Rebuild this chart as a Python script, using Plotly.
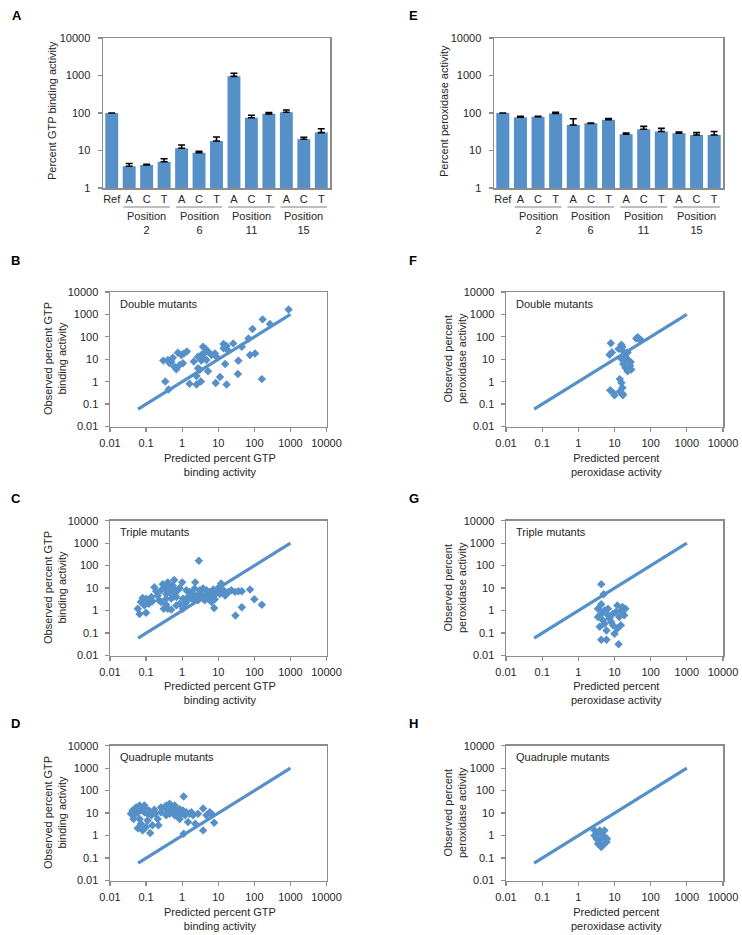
import plotly.graph_objects as go

W, H = 742, 935
BLUE = "#5590C9"
AXC = "#8C8C8C"
TXT = "#262626"
FONT = "Liberation Sans, Arial, sans-serif"

# ---------------- data ----------------
bar_labels = ["Ref", "A", "C", "T", "A", "C", "T", "A", "C", "T", "A", "C", "T"]
groups = ["Position<br>2", "Position<br>6", "Position<br>11", "Position<br>15"]

gtp_vals = [100, 3.8, 4.1, 5.0, 11.5, 8.7, 18, 950, 75, 95, 105, 20, 30]
gtp_err = [0, 0.7, 0.2, 1.0, 2.5, 0.8, 5.0, 200, 12, 8, 15, 2.5, 8]

perox_vals = [100, 77, 80, 97, 48, 53, 66, 27, 37, 32, 29, 26, 26]
perox_err = [0, 5, 2, 8, 22, 1, 5, 2, 7, 7, 2, 4, 6]

diag_x = [0.06, 1000]
diag_y = [0.06, 1000]

# GTP double mutants (predicted, observed)
gtp_dbl_pred = [890, 170, 270, 89, 69, 45, 26, 14, 17, 19, 105, 76, 162, 36, 35, 15.5, 11.2,
                17, 8.5, 8.1, 6.5, 8.9, 5.2, 3.8, 4.5, 3.4, 3.8, 4.7, 3.4, 2.75, 3.1, 2.5,
                3.3, 2.5, 1.6, 5.2, 2.1, 1.35, 1.12, 0.76, 0.95, 0.55, 0.4, 0.3, 0.45, 0.62,
                0.69, 0.85, 1.05, 0.5, 0.34, 0.42, 14, 2.75, 4]
gtp_dbl_obs = [1660, 600, 370, 224, 85, 36, 51, 48, 39, 24, 18, 15.5, 1.3, 8.5, 2.2, 6.2, 1.6,
               0.74, 0.87, 18, 15.5, 13, 22, 36, 28, 15.5, 11, 9.3, 8.7, 4, 3.4, 1.8,
               1.02, 0.74, 0.81, 2.9, 7.9, 22, 18, 19.5, 15.5, 11.7, 9.3, 8.7, 6.6, 4.5,
               3.6, 5.6, 6.6, 7.9, 1.02, 0.45, 31, 13, 18]

# GTP triple mutants
gtp_tri_pred = [2.9, 0.059, 0.066, 0.1, 0.072, 0.08, 0.09, 0.11, 0.14, 0.17, 0.12, 0.21, 0.23,
                0.26, 0.29, 0.33, 0.36, 0.4, 0.45, 0.5, 0.55, 0.6, 0.62, 0.69, 0.76, 0.85, 1.0,
                0.4, 0.5, 0.36, 0.31, 0.85, 1.05, 1.3, 1.45, 1.2, 1.6, 2.0, 2.3, 2.2, 2.5, 2.75,
                3.1, 3.4, 3.8, 4.2, 4.7, 5.2, 5.8, 6.5, 7.3, 8.0, 9.0, 10, 11, 12, 14, 15.5,
                7.7, 17, 19, 23, 29, 36, 45, 76, 100, 162, 45, 30, 5.2, 3.8, 1.8, 1.3, 0.69,
                1.05, 0.19, 0.15, 0.1, 0.26, 0.5, 0.36, 0.31, 0.4, 0.62, 4.2, 6.5, 8.0, 3.1, 2.2]
gtp_tri_obs = [166, 1.2, 0.7, 0.8, 2.4, 3.6, 1.7, 2.9, 4.0, 11, 2.0, 4.7, 2.9,
               8.0, 15, 11, 5.5, 18, 8.0, 3.4, 13, 23, 5.5, 4.0, 8.0, 10, 18,
               1.2, 1.1, 1.8, 1.2, 2.0, 3.4, 8.0, 4.0, 2.0, 6.8, 5.1, 18, 9.5, 4.7, 2.9,
               8.0, 5.5, 9.5, 4.4, 8.0, 5.5, 6.8, 4.0, 8.7, 5.0, 7.0, 10, 5.5, 16, 8.0, 4.7,
               1.3, 5.5, 6.8, 8.0, 6.8, 7.3, 7.3, 8.7, 3.2, 1.8, 1.4, 0.6, 3.4, 3.4, 3.4, 2.4, 1.7,
               1.2, 7.3, 2.6, 3.4, 2.4, 5.5, 3.4, 10, 13, 8.7, 2.9, 2.4, 3.2, 4.0, 2.9]

# GTP quadruple mutants
gtp_quad_pred = [1.1, 0.038, 0.042, 0.047, 0.053, 0.059, 0.066, 0.072, 0.08, 0.09, 0.1, 0.11,
                 0.12, 0.14, 0.15, 0.17, 0.059, 0.072, 0.08, 0.1, 0.11, 0.13, 0.15, 0.22, 0.21,
                 0.26, 0.33, 0.36, 0.4, 0.45, 0.5, 0.55, 0.62, 0.69, 0.76, 0.85, 0.95, 1.05,
                 1.2, 1.3, 1.45, 1.6, 1.8, 1.1, 2.3, 2.75, 3.8, 3.8, 4.7, 5.8, 6.5, 7.7, 0.62,
                 0.45, 0.26, 0.09, 0.059, 0.045, 0.066, 0.18, 0.76, 0.36, 2.0, 0.85]
gtp_quad_obs = [55, 9.3, 13, 8.0, 18, 11, 22, 13, 18, 11, 15, 9.3,
                13, 8.0, 11, 14, 2.1, 3.4, 1.7, 2.4, 4.7, 1.3, 2.9, 2.9, 5.5,
                11, 18, 22, 13, 9.3, 15, 11, 8.0, 13, 6.8, 15, 9.3, 13,
                8.0, 11, 4.0, 9.3, 11, 1.2, 3.4, 9.3, 16, 1.7, 8.0, 11, 9.3, 3.7, 22,
                26, 18, 22, 15, 5.5, 5.5, 9.3, 11, 8.0, 8.0, 5.5]

# Peroxidase double mutants
px_dbl_pred = [7.9, 7.3, 8.5, 15.5, 17, 19, 15, 21, 25, 17.5, 27, 29, 23, 20, 28, 23, 14,
               15.5, 16.5, 14, 7.6, 9.3, 17, 44, 49, 40, 54, 16.5, 19, 24, 13, 10, 17]
px_dbl_obs = [52, 16, 20, 44, 24, 16, 11, 12, 8.1, 6.2, 5.1, 3.5, 2.9, 4.2, 7.6, 20, 1.3,
              0.89, 0.54, 0.36, 0.41, 0.31, 0.25, 95, 78, 85, 72, 35, 9.1, 4.3, 29, 0.25, 0.28]

# Peroxidase triple mutants
px_tri_pred = [4.3, 5.0, 4.3, 5.3, 3.5, 4.8, 6.6, 8.1, 3.9, 6.0, 10, 12, 13.5, 15, 16.5, 12, 20,
               11, 4.3, 6.0, 13, 5.3, 7.3, 9.1, 3.5, 18.5, 15, 4.3, 6.6, 9.1]
px_tri_obs = [15, 5.3, 1.9, 1.0, 0.52, 0.37, 0.62, 0.31, 0.19, 0.13, 0.093, 0.16, 0.52, 1.0,
              1.45, 1.7, 1.2, 0.87, 0.05, 0.05, 0.032, 0.26, 0.44, 0.72, 1.2, 0.62, 0.22,
              0.72, 1.2, 0.22]

# Peroxidase quadruple mutants
px_quad_pred = [2.8, 3.5, 4.3, 5.3, 3.9, 4.8, 6.0, 3.2, 4.3, 2.8, 5.3, 3.5, 4.8, 3.9, 6.2]
px_quad_obs = [1.7, 1.23, 1.45, 0.87, 0.62, 0.37, 0.52, 0.72, 0.31, 1.0, 1.7, 0.43, 1.0, 1.7, 0.72]

# ---------------- layout helpers ----------------
def xd(a, b):
    return [a / W, b / W]

def yd(top, bot):
    return [1 - bot / H, 1 - top / H]

def px_x(v):
    return v / W

def px_y(v):
    return 1 - v / H

fig = go.Figure()

dec_vals = [1, 10, 100, 1000, 10000]
dec_text = ["1", "10", "100", "1000", "10000"]
sc_vals = [0.01, 0.1, 1, 10, 100, 1000, 10000]
sc_text = ["0.01", "0.1", "1", "10", "100", "1000", "10000"]

tickfont = dict(family=FONT, size=11, color=TXT)

# bar panels
bar_specs = [
    ("x", "y", gtp_vals, gtp_err, xd(103, 330)),
    ("x2", "y2", perox_vals, perox_err, xd(494, 723)),
]
for xa, ya, vals, err, dom in bar_specs:
    fig.add_trace(go.Bar(
        x=list(range(len(bar_labels))), y=vals, xaxis=xa, yaxis=ya,
        marker=dict(color=BLUE, line=dict(width=0)), width=0.74,
        error_y=dict(type="data", symmetric=False, array=err, arrayminus=[0] * len(err),
                     color="black", thickness=1.6, width=3.5),
        showlegend=False, hoverinfo="skip",
    ))

# scatter panels
scatter_specs = [
    ("x3", "y3", gtp_dbl_pred, gtp_dbl_obs),
    ("x4", "y4", px_dbl_pred, px_dbl_obs),
    ("x5", "y5", gtp_tri_pred, gtp_tri_obs),
    ("x6", "y6", px_tri_pred, px_tri_obs),
    ("x7", "y7", gtp_quad_pred, gtp_quad_obs),
    ("x8", "y8", px_quad_pred, px_quad_obs),
]
for xa, ya, xs, ys in scatter_specs:
    fig.add_trace(go.Scatter(x=xs, y=ys, mode="markers", xaxis=xa, yaxis=ya,
                             marker=dict(symbol="diamond", size=6.5, color=BLUE, line=dict(width=0)),
                             showlegend=False, hoverinfo="skip"))
    fig.add_trace(go.Scatter(x=diag_x, y=diag_y, mode="lines", xaxis=xa, yaxis=ya,
                             line=dict(color=BLUE, width=3.2), showlegend=False, hoverinfo="skip"))

common_ax = dict(showline=True, linecolor=AXC, linewidth=1.5, mirror=True, showgrid=False,
                 zeroline=False, tickfont=tickfont, automargin=False)

lay = dict(width=W, height=H, margin=dict(l=0, r=0, t=0, b=0, pad=0, autoexpand=False),
           autosize=False,
           paper_bgcolor="white", plot_bgcolor="white", showlegend=False,
           font=dict(family=FONT, size=11, color=TXT), bargap=0.26)

# bar axes
for i, (xa, ya, vals, err, dom) in enumerate(bar_specs):
    xk = "xaxis" if xa == "x" else "xaxis" + xa[1:]
    yk = "yaxis" if ya == "y" else "yaxis" + ya[1:]
    lay[xk] = dict(common_ax, domain=dom, anchor=ya, range=[-0.5, len(bar_labels) - 0.5],
                   tickmode="array", tickvals=list(range(len(bar_labels))), ticktext=bar_labels,
                   ticks="", fixedrange=True)
    lay[yk] = dict(common_ax, domain=yd(38, 188), anchor=xa, type="log", range=[0, 4],
                   tickmode="array", tickvals=dec_vals, ticktext=dec_text,
                   ticks="outside", ticklen=4, tickcolor=AXC, tickwidth=1.2,
                   ticklabelstandoff=5)

# scatter axes
cols = [xd(110, 326.5), xd(506, 723)]
rows = [yd(292, 426.5), yd(520.7, 655.5), yd(745.7, 880.5)]
n = 3
for r in range(3):
    for c in range(2):
        xa = "x%d" % n
        ya = "y%d" % n
        lay["xaxis%d" % n] = dict(common_ax, domain=cols[c], anchor=ya, type="log", range=[-2, 4],
                                  tickmode="array", tickvals=sc_vals, ticktext=sc_text,
                                  ticks="outside", ticklen=4, tickcolor=AXC, tickwidth=1.2,
                                  ticklabelstandoff=2)
        lay["yaxis%d" % n] = dict(common_ax, domain=rows[r], anchor=xa, type="log", range=[-2, 4],
                                  tickmode="array", tickvals=sc_vals, ticktext=sc_text,
                                  ticks="outside", ticklen=4, tickcolor=AXC, tickwidth=1.2,
                                  ticklabelstandoff=4)
        n += 1

fig.update_layout(**lay)

ann = []
shapes = []

def note(text, x, y, xanchor="center", yanchor="middle", xref="paper", size=11, angle=0,
         color=TXT, xval=None):
    return dict(text=text, x=(px_x(x) if xval is None else xval), y=px_y(y), xref=xref,
                yref="paper", xanchor=xanchor, yanchor=yanchor, showarrow=False,
                textangle=angle, align="center", font=dict(family=FONT, size=size, color=color))

# panel letters
letters = [("A", 10, 16), ("B", 9, 260), ("C", 9, 498.5), ("D", 9, 723.5),
           ("E", 407, 16), ("F", 407, 260), ("G", 407, 498.5), ("H", 407, 723.5)]
for t, x, y in letters:
    ann.append(note("<b>%s</b>" % t, x, y, xanchor="left", size=13, color="black"))

# bar y titles
ann.append(note("Percent GTP binding activity", 52, 111, angle=-90))
ann.append(note("Percent peroxidase activity", 444, 111, angle=-90))

# group underlines and labels
group_members = [[1, 2, 3], [4, 5, 6], [7, 8, 9], [10, 11, 12]]
for xa in ["x", "x2"]:
    for g, mem in enumerate(group_members):
        shapes.append(dict(type="line", xref=xa, yref="paper", x0=mem[0] - 0.33, x1=mem[-1] + 0.33,
                           y0=px_y(207), y1=px_y(207), line=dict(color="#7F7F7F", width=1)))
        ann.append(note(groups[g], 0, 223, xref=xa, xval=sum(mem) / len(mem)))

# scatter titles
row_mid = [359, 588, 813]
xt_mid = [464.5, 692.5, 918.5]
mut = ["Double mutants", "Triple mutants", "Quadruple mutants"]
row_top = [304, 532, 757]
for r in range(3):
    ann.append(note("Observed percent GTP<br>binding activity", 55, row_mid[r], angle=-90))
    ann.append(note("Observed percent<br>peroxidase activity", 455, row_mid[r], angle=-90))
    ann.append(note("Predicted percent GTP<br>binding activity", 220, xt_mid[r]))
    ann.append(note("Predicted percent<br>peroxidase activity", 616, xt_mid[r]))
    ann.append(note(mut[r], 118, row_top[r], xanchor="left"))
    ann.append(note(mut[r], 513.5, row_top[r], xanchor="left"))

fig.update_layout(annotations=ann, shapes=shapes)
fig.write_html("out.html", config={"displayModeBar": False, "staticPlot": True},
               post_script="document.body.style.margin='0';document.body.style.padding='0';")
